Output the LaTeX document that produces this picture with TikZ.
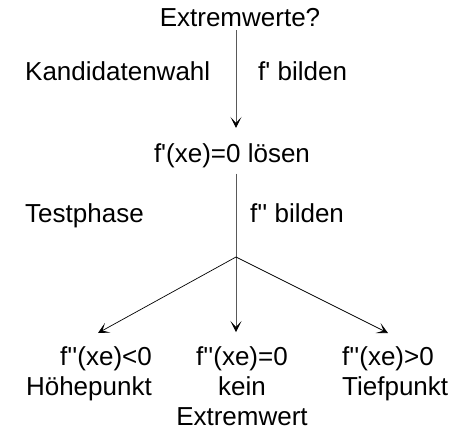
\documentclass[tikz,border=0pt]{standalone}
\usepackage{fontspec}
\setmainfont{Liberation Sans}
\usetikzlibrary{arrows.meta}
\newcommand{\pr}{\textquotesingle}
\tikzset{
  lbl/.style={inner sep=0pt, font=\fontsize{26}{30}\selectfont},
  trunk/.style={draw=black!65, line width=0.8pt},
  branch/.style={draw=black, line width=0.7pt},
  tip/.style={-{Stealth[length=11pt,width=11pt,inset=6pt,black]}},
}
\begin{document}
\begin{tikzpicture}[x=1pt,y=1pt]
  \useasboundingbox (0,0) rectangle (453,-432);

  % question and first step
  \node[lbl, anchor=base] (q) at (240,-26) {Extremwerte?};
  \node[lbl, anchor=base] (l) at (232,-162) {f\pr(xe)=0 lösen};
  \coordinate (b) at (236,-257);

  % side labels of the two phases
  \node[lbl, anchor=base west] (k)  at (25,-80)  {Kandidatenwahl};
  \node[lbl, anchor=base west] (f1) at (258,-80) {f\pr{} bilden};
  \node[lbl, anchor=base west] (t)  at (25,-222) {Testphase};
  \node[lbl, anchor=base west] (f2) at (250,-222) {f\pr\pr{} bilden};

  % three outcomes of the test
  \node[lbl, align=right,  anchor=north east] (h) at (152,-346) {f\pr\pr(xe)<0\\Höhepunkt};
  \node[lbl, align=center, anchor=north]      (m) at (242,-346) {f\pr\pr(xe)=0\\kein\\Extremwert};
  \node[lbl, align=left,   anchor=north west] (r) at (342,-346) {f\pr\pr(xe)>0\\Tiefpunkt};

  \coordinate (hl) at (98,-333);
  \coordinate (rl) at (388,-333);

  % connectors
  \draw[trunk, tip, shorten <=4pt, shorten >=15pt] (q.south -| b) -- (l.north -| b);
  \draw[trunk, shorten <=6pt] (l.south -| b) -- (b);
  \draw[trunk, tip, shorten >=14pt] (b) -- (m.north -| b);
  \draw[branch, tip] (b) -- (hl);
  \draw[branch, tip] (b) -- (rl);
\end{tikzpicture}
\end{document}
